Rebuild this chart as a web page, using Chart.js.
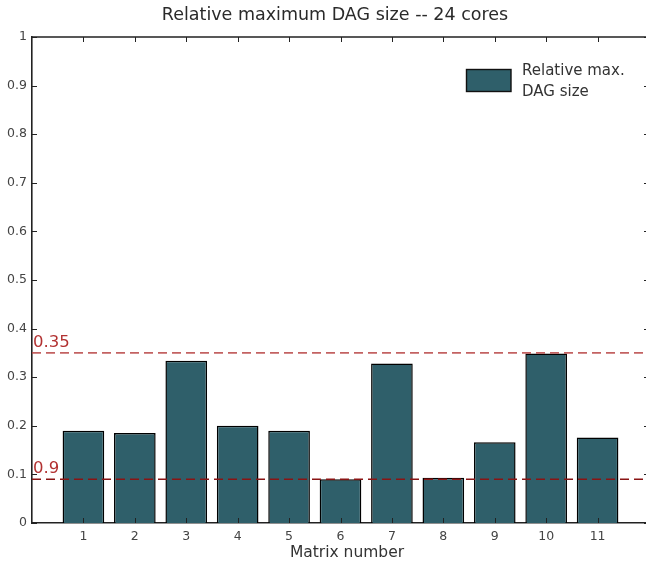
<!DOCTYPE html>
<html>
<head>
<meta charset="utf-8">
<script src="https://cdn.jsdelivr.net/npm/chart.js@4/dist/chart.umd.min.js"></script>
<style>
  html, body { margin: 0; padding: 0; background: #fff; overflow: hidden; width: 646px; height: 563px; }
  #wrap { width: 646px; height: 563px; position: relative; overflow: hidden; }
  #c { position: absolute; left: 0; top: 0; }
</style>
</head>
<body>
<div id="wrap"><canvas id="c" width="655" height="563"></canvas></div>
<script>
const categories = [1, 2, 3, 4, 5, 6, 7, 8, 9, 10, 11];
const relMaxDagSize = [0.190, 0.185, 0.334, 0.200, 0.190, 0.090, 0.328, 0.093, 0.166, 0.349, 0.176];
const seriesLabel = ['Relative max.', 'DAG size'];
const refLines = [
  { value: 0.35, label: '0.35', color: 'rgba(185,70,70,0.85)', width: 1.8 },
  { value: 0.09, label: '0.9', color: '#8a1414', width: 1.4 }
];
const titleText = 'Relative maximum DAG size -- 24 cores';
const xTitle = 'Matrix number';
const FONT = "'DejaVu Sans', sans-serif";

const extras = {
  id: 'extras',
  afterDatasetsDraw(chart) {
    const ctx = chart.ctx, a = chart.chartArea;
    const xs = chart.scales.x, ys = chart.scales.y;
    ctx.save();
    ctx.strokeStyle = '#222'; ctx.lineWidth = 1.6;
    ctx.beginPath(); ctx.moveTo(a.left, a.top); ctx.lineTo(a.right, a.top); ctx.lineTo(a.right, a.bottom); ctx.stroke();
    ctx.lineWidth = 1;
    categories.forEach(v => {
      const px = Math.round(xs.getPixelForValue(v)) + 0.5;
      ctx.beginPath(); ctx.moveTo(px, a.top); ctx.lineTo(px, a.top + 5); ctx.stroke();
      ctx.beginPath(); ctx.moveTo(px, a.bottom); ctx.lineTo(px, a.bottom - 5); ctx.stroke();
    });
    for (let i = 0; i <= 10; i++) {
      const py = Math.round(ys.getPixelForValue(i / 10)) + 0.5;
      ctx.beginPath(); ctx.moveTo(a.left, py); ctx.lineTo(a.left + 5, py); ctx.stroke();
      ctx.beginPath(); ctx.moveTo(a.right, py); ctx.lineTo(a.right - 5, py); ctx.stroke();
    }
    refLines.forEach(r => {
      const py = ys.getPixelForValue(r.value);
      ctx.strokeStyle = r.color; ctx.lineWidth = r.width;
      ctx.setLineDash([9, 5]);
      ctx.beginPath(); ctx.moveTo(a.left, py); ctx.lineTo(a.right, py); ctx.stroke();
      ctx.setLineDash([]);
      ctx.fillStyle = '#b23232';
      ctx.font = '16.5px ' + FONT;
      ctx.textAlign = 'left'; ctx.textBaseline = 'alphabetic';
      ctx.fillText(r.label, a.left + 1, py - 6);
    });
    ctx.fillStyle = '#2f5f6a'; ctx.strokeStyle = '#111'; ctx.lineWidth = 1.4;
    ctx.fillRect(466, 69, 45, 22); ctx.strokeRect(466.5, 69.5, 44.5, 22);
    ctx.fillStyle = '#333';
    ctx.font = '15px ' + FONT;
    ctx.textBaseline = 'middle';
    ctx.fillText(seriesLabel[0], 522, 71);
    ctx.fillText(seriesLabel[1], 522, 92);
    ctx.font = '17.5px ' + FONT;
    ctx.textAlign = 'center';
    ctx.fillStyle = '#2a2a2a';
    ctx.fillText(titleText, 335, 15);
    ctx.font = '15.5px ' + FONT;
    ctx.fillStyle = '#333';
    ctx.fillText(xTitle, 347, 553);
    ctx.restore();
  }
};

new Chart(document.getElementById('c'), {
  type: 'bar',
  data: {
    datasets: [{
      label: seriesLabel.join(' '),
      data: categories.map((c, i) => ({ x: c, y: relMaxDagSize[i] })),
      backgroundColor: '#2f5f6a',
      borderColor: '#000',
      borderWidth: 1.5,
      barPercentage: 0.81,
      categoryPercentage: 1.0
    }]
  },
  plugins: [extras],
  options: {
    responsive: false,
    animation: false,
    layout: { padding: { top: 37, right: 0, left: 0, bottom: 0 } },
    plugins: { legend: { display: false }, title: { display: false }, tooltip: { enabled: false } },
    scales: {
      x: {
        type: 'linear', min: 0, max: 12, offset: false,
        grid: { display: false, drawTicks: false },
        border: { display: true, color: '#222', width: 1.6 },
        ticks: {
          stepSize: 1, padding: 6, color: '#444',
          font: { family: FONT, size: 12.5 },
          callback: v => (v >= 1 && v <= 11 ? String(v) : '')
        },
        afterFit: s => { s.height = 40; }
      },
      y: {
        min: 0, max: 1,
        grid: { display: false, drawTicks: false },
        border: { display: true, color: '#222', width: 1.6 },
        ticks: {
          stepSize: 0.1, padding: 5, color: '#444',
          font: { family: FONT, size: 12.5 },
          callback: v => (Math.abs(v) < 1e-9 ? '0' : (Math.abs(v - 1) < 1e-9 ? '1' : v.toFixed(1)))
        },
        afterFit: s => { s.width = 32; }
      }
    }
  }
});
</script>
</body>
</html>
